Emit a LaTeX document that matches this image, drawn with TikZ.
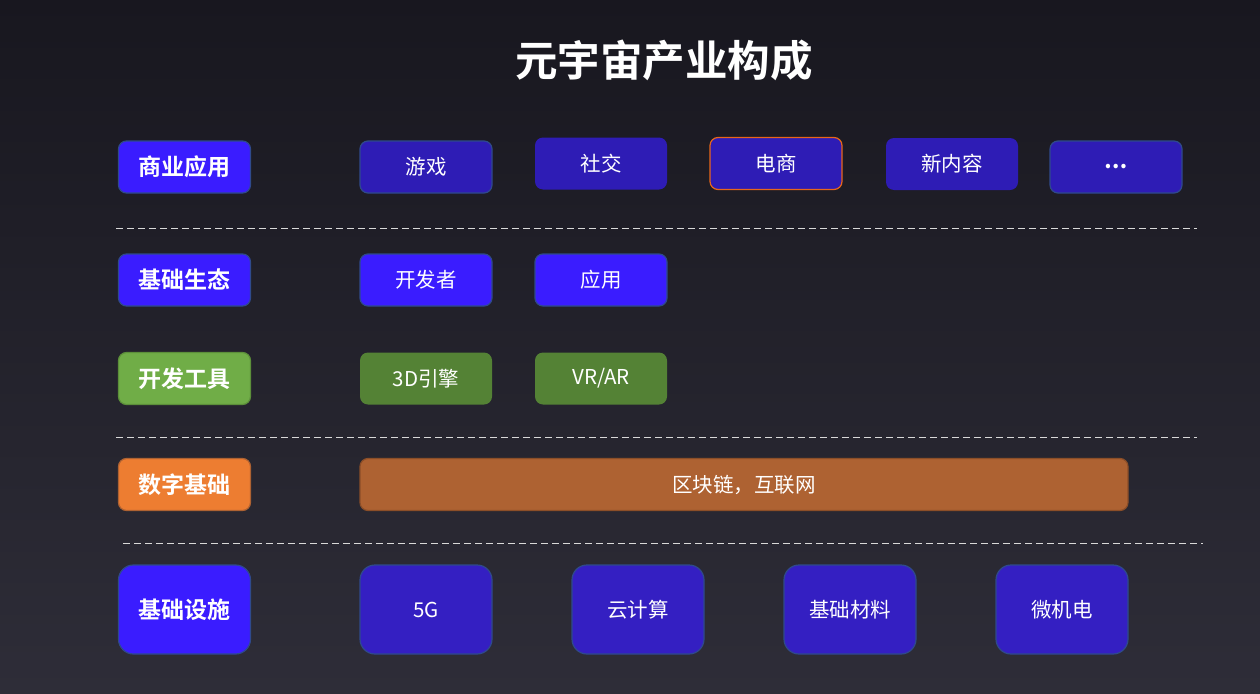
\documentclass[tikz,border=0pt]{standalone}
\usepackage{fontspec}
\setmainfont{Noto Sans CJK SC}
\newfontfamily\cjkb{Noto Sans CJK SC Bold}
\newfontfamily\cjk{Noto Sans CJK SC}
\definecolor{bgtop}{HTML}{18171F}
\definecolor{bgbot}{HTML}{2E2D38}
\definecolor{labblue}{HTML}{3A1CFF}
\definecolor{itemblue}{HTML}{2E1CB5}
\definecolor{infblue}{HTML}{341FC2}
\definecolor{brdblue}{HTML}{2F4A8C}
\definecolor{labgreen}{HTML}{70AD47}
\definecolor{itemgreen}{HTML}{548235}
\definecolor{laborange}{HTML}{ED7D31}
\definecolor{itemorange}{HTML}{AE6232}
\definecolor{brdorange}{HTML}{E8661A}
\tikzset{
  base/.style={rounded corners=8pt, inner sep=0pt, minimum width=132pt, minimum height=52pt, text=white, line width=1.2pt},
  lab/.style={base, font=\cjkb\fontsize{23}{26}\selectfont},
  item/.style={base, font=\cjk\fontsize{20.5}{24}\selectfont},
  sep/.style={draw=white!85!black, dashed, dash pattern=on 7pt off 4pt, line width=1pt},
}
\begin{document}
\begin{tikzpicture}[x=1pt,y=-1pt]
\shade[top color=bgtop, bottom color=bgbot] (0,0) rectangle (1260,693);
\useasboundingbox (0,0) rectangle (1260,693);
\node[text=white, font=\cjkb\fontsize{42.5}{48}\selectfont] (title) at (664,60) {元宇宙产业构成};
% row 1
\node[lab, fill=labblue, draw=brdblue] (l1) at (184.5,167) {商业应用};
\node[item, fill=itemblue, draw=brdblue] (game) at (426,167) {游戏};
\node[item, fill=itemblue] (social) at (601,163.5) {社交};
\node[item, fill=itemblue, draw=brdorange] (ecom) at (776,163.5) {电商};
\node[item, fill=itemblue] (newc) at (952,164) {新内容};
\node[item, fill=itemblue, draw=brdblue] (more) at (1116,167) {\textbf{…}};
\coordinate (d1a) at (116,228); \coordinate (d1b) at (1197,228);
\draw[sep] (d1a) -- (d1b);
% row 2
\node[lab, fill=labblue, draw=brdblue] (l2) at (184.5,280) {基础生态};
\node[item, fill=labblue, draw=brdblue] (dev) at (426,280) {开发者};
\node[item, fill=labblue, draw=brdblue] (app) at (601,280) {应用};
% row 3
\node[lab, fill=labgreen, draw=itemgreen!70!labgreen] (l3) at (184.5,378.5) {开发工具};
\node[item, fill=itemgreen] (eng) at (426,378.5) {3D引擎};
\node[item, fill=itemgreen] (vr) at (601,378.5) {VR/AR};
\coordinate (d2a) at (116,437); \coordinate (d2b) at (1197,437);
\draw[sep] (d2a) -- (d2b);
% row 4
\node[lab, fill=laborange, draw=itemorange] (l4) at (184.5,484.5) {数字基础};
\node[item, fill=itemorange, draw=itemorange!80!black, minimum width=768pt] (chain) at (744,484.5) {区块链，互联网};
\coordinate (d3a) at (123,543); \coordinate (d3b) at (1203,543);
\draw[sep] (d3a) -- (d3b);
% row 5
\tikzset{big/.style={minimum height=89pt, rounded corners=15pt}}
\node[lab, big, fill=labblue, draw=brdblue] (l5) at (184.5,609.5) {基础设施};
\node[item, big, fill=infblue, draw=brdblue] (g5) at (426,609.5) {5G};
\node[item, big, fill=infblue, draw=brdblue] (cloud) at (638,609.5) {云计算};
\node[item, big, fill=infblue, draw=brdblue] (mat) at (850,609.5) {基础材料};
\node[item, big, fill=infblue, draw=brdblue] (mems) at (1062,609.5) {微机电};
\end{tikzpicture}
\end{document}
